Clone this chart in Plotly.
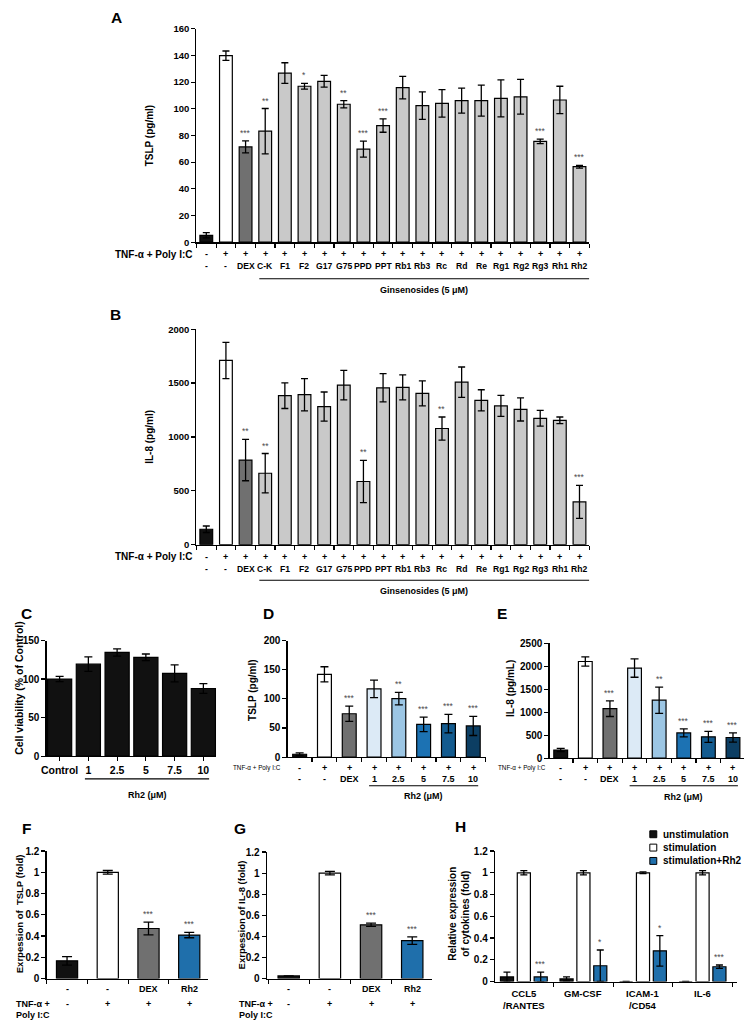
import plotly.graph_objects as go

W, H = 752, 1031
FONT = "Liberation Sans"

# ---------------- data ----------------
# Panels A / B : ginsenoside screen
ab_labels = ["-", "-", "DEX", "C-K", "F1", "F2", "G17", "G75", "PPD", "PPT", "Rb1", "Rb3",
             "Rc", "Rd", "Re", "Rg1", "Rg2", "Rg3", "Rh1", "Rh2"]
ab_stim = ["-"] + ["+"] * 19
a_tslp = [5.2, 139.8, 71.4, 83.2, 126.8, 116.9, 120.6, 103.4, 69.7, 87.4, 115.9, 102.4,
          104.1, 106.1, 106.1, 107.8, 109.0, 75.6, 106.6, 56.6]
a_err = [2.0, 3.5, 4.5, 17.0, 7.7, 2.2, 4.4, 2.7, 6.0, 5.0, 8.4, 10.3, 10.3, 9.4, 11.6,
         13.8, 13.0, 1.7, 10.3, 1.0]
a_sig = ["", "", "***", "**", "", "*", "", "**", "***", "***", "", "", "", "", "", "", "",
         "***", "", "***"]
b_il8 = [143, 1710, 785, 663, 1383, 1392, 1282, 1481, 586, 1456, 1460, 1405, 1078, 1508,
         1340, 1288, 1255, 1173, 1154, 397]
b_err = [30, 168, 192, 183, 119, 150, 135, 137, 196, 131, 116, 116, 107, 141, 98, 98, 107,
         73, 31, 153]
b_sig = ["", "", "**", "**", "", "", "", "", "**", "", "", "", "**", "", "", "", "", "",
         "", "***"]

# Panel C : cell viability
c_labels = ["Control", "1", "2.5", "5", "7.5", "10"]
c_viab = [100.1, 119.3, 134.6, 128.2, 107.4, 87.8]
c_err = [3.4, 9.4, 4.7, 4.3, 11.0, 6.4]

# Panels D / E : Rh2 dose response
de_labels = ["-", "-", "DEX", "1", "2.5", "5", "7.5", "10"]
de_stim = ["-", "+", "+", "+", "+", "+", "+", "+"]
d_tslp = [5.0, 142.0, 74.4, 117.2, 100.3, 56.3, 57.5, 53.5]
d_err = [2.5, 13.0, 13.0, 15.0, 10.7, 12.4, 15.7, 16.4]
d_sig = ["", "", "***", "", "**", "***", "***", "***"]
e_il8 = [178, 2107, 1079, 1964, 1264, 550, 464, 450]
e_err = [36, 100, 171, 200, 286, 86, 121, 100]
e_sig = ["", "", "***", "", "**", "***", "***", "***"]

# Panels F / G : mRNA expression
fg_labels = ["-", "-", "DEX", "Rh2"]
fg_stim = ["-", "+", "+", "+"]
f_tslp = [0.167, 1.0, 0.471, 0.409]
f_err = [0.04, 0.017, 0.06, 0.025]
g_il8 = [0.025, 1.0, 0.51, 0.36]
g_err = [0.0, 0.017, 0.015, 0.035]
fg_sig = ["", "", "***", "***"]

# Panel H : other cytokines
h_cats = ["CCL5<br>/RANTES", "GM-CSF", "ICAM-1<br>/CD54", "IL-6"]
h_series = ["unstimulation", "stimulation", "stimulation+Rh2"]
h_unstim = [0.042, 0.024, 0.0, 0.0]
h_unstim_err = [0.045, 0.018, 0.0, 0.0]
h_stim = [1.0, 1.0, 1.0, 1.0]
h_stim_err = [0.02, 0.02, 0.008, 0.02]
h_rh2 = [0.042, 0.145, 0.282, 0.136]
h_rh2_err = [0.045, 0.145, 0.14, 0.016]
h_sig = ["***", "*", "*", "***"]

# ---------------- styling ----------------
BLACK = "#111111"
DEXG = "#707070"
LIGHTG = "#c9c9c9"
BLUE = "#1f6fab"
BLUES = ["#dceaf6", "#9cc6e4", "#1c72b3", "#135b8f", "#0c3e63"]
STARC = "#4a4a4a"

ab_colors = [BLACK, "white", DEXG] + [LIGHTG] * 17
de_colors = [BLACK, "white", DEXG] + BLUES
fg_colors = [BLACK, "white", DEXG, BLUE]


def px(x):
    return x / W


def py(y):
    return 1 - y / H


def font(size, bold=True, color="black"):
    return dict(family=FONT, size=size, color=color, weight="bold" if bold else "normal")


fig = go.Figure()
annotations = []
shapes = []


def ann(x, y, text, size=9, xref="paper", yref="paper", xanchor="center", yanchor="middle",
        bold=True, color="black", angle=0, yshift=0):
    annotations.append(dict(x=x, y=y, xref=xref, yref=yref, text=text, showarrow=False,
                            font=font(size, bold, color), xanchor=xanchor, yanchor=yanchor,
                            textangle=angle, yshift=yshift))


def setup_axes(n, xd, yd, xr, yr, dtick, xtickvals, ytfs=9.5, xticklabels=None, xtfs=10):
    xa = "xaxis" if n == 1 else f"xaxis{n}"
    ya = "yaxis" if n == 1 else f"yaxis{n}"
    yid = "y" if n == 1 else f"y{n}"
    xid = "x" if n == 1 else f"x{n}"
    xcfg = dict(domain=[px(xd[0]), px(xd[1])], range=list(xr), anchor=yid,
                showline=True, linecolor="black", linewidth=1.3, ticks="outside",
                ticklen=4, tickwidth=1.2, tickcolor="black", showgrid=False,
                zeroline=False, tickvals=xtickvals, fixedrange=True)
    if xticklabels is None:
        xcfg["showticklabels"] = False
    else:
        xcfg["ticktext"] = xticklabels
        xcfg["tickfont"] = font(xtfs)
    ycfg = dict(domain=[py(yd[0]), py(yd[1])], range=list(yr), anchor=xid,
                showline=True, linecolor="black", linewidth=1.3, ticks="outside",
                ticklen=4, tickwidth=1.2, tickcolor="black", showgrid=False,
                zeroline=False, dtick=dtick, tick0=0, tickfont=font(ytfs), fixedrange=True)
    fig.layout[xa] = xcfg
    fig.layout[ya] = ycfg
    return xid, yid


def add_bars(xid, yid, xs, ys, errs, colors, width, capw):
    fig.add_trace(go.Bar(x=xs, y=ys, xaxis=xid, yaxis=yid, width=width,
                         marker=dict(color=colors, line=dict(color="black", width=1.2)),
                         error_y=dict(type="data", array=errs, visible=True, color="black",
                                      thickness=1.3, width=capw),
                         showlegend=False))


def add_stars(xid, yid, xs, ys, errs, sigs, size=8.5):
    for x, y, e, s in zip(xs, ys, errs, sigs):
        if s:
            ann(x, y + e, s, size=size, xref=xid, yref=yid, yanchor="bottom",
                bold=False, color=STARC, yshift=1)


# ---------------- Panel A ----------------
idx20 = list(range(len(ab_labels)))
xa, ya = setup_axes(1, (192, 588), (239, 23), (-0.5, 19.5), (0, 160), 20,
                    [i - 0.5 for i in range(len(ab_labels) + 1)])
add_bars(xa, ya, idx20, a_tslp, a_err, ab_colors, 0.65, 3.5)
add_stars(xa, ya, idx20, a_tslp, a_err, a_sig)
ann(px(191), py(251), "TNF-α + Poly I:C", size=10, xanchor="right")
for i, (s, l) in enumerate(zip(ab_stim, ab_labels)):
    ann(i, py(251), s, size=9, xref=xa)
    ann(i, py(263), l, size=8.6, xref=xa)
shapes.append(dict(type="line", xref=xa, yref="paper", x0=2.7, x1=19.5, y0=py(276), y1=py(276),
                   line=dict(color="black", width=1.1)))
ann((2.7 + 19.5) / 2, py(287), "Ginsenosides (5 μM)", size=9, xref=xa)
ann(px(145), py(131), "TSLP (pg/ml)", size=10, angle=-90)
ann(px(111), py(12), "A", size=15.5)

# ---------------- Panel B ----------------
xb, yb = setup_axes(2, (192, 588), (545, 327), (-0.5, 19.5), (0, 2000), 500,
                    [i - 0.5 for i in range(len(ab_labels) + 1)])
add_bars(xb, yb, idx20, b_il8, b_err, ab_colors, 0.65, 3.5)
add_stars(xb, yb, idx20, b_il8, b_err, b_sig)
ann(px(191), py(557), "TNF-α + Poly I:C", size=10, xanchor="right")
for i, (s, l) in enumerate(zip(ab_stim, ab_labels)):
    ann(i, py(557), s, size=9, xref=xb)
    ann(i, py(570), l, size=8.6, xref=xb)
shapes.append(dict(type="line", xref=xb, yref="paper", x0=2.7, x1=19.5, y0=py(581), y1=py(581),
                   line=dict(color="black", width=1.1)))
ann((2.7 + 19.5) / 2, py(592), "Ginsenosides (5 μM)", size=9, xref=xb)
ann(px(145), py(436), "IL-8 (pg/ml)", size=10, angle=-90)
ann(px(110), py(312), "B", size=15.5)

# ---------------- Panel C ----------------
idx6 = list(range(len(c_labels)))
xc, yc = setup_axes(3, (41, 212), (759, 642), (-0.45, 5.45), (0, 150), 50, idx6,
                    ytfs=10, xticklabels=c_labels, xtfs=10.5)
add_bars(xc, yc, idx6, c_viab, c_err, [BLACK] * 6, 0.84, 4)
shapes.append(dict(type="line", xref=xc, yref="paper", x0=0.88, x1=5.2, y0=py(782), y1=py(782),
                   line=dict(color="black", width=1.1)))
ann((0.88 + 5.2) / 2, py(798), "Rh2 (μM)", size=9, xref=xc)
ann(px(13), py(690), "Cell viability (% of Control)", size=10.5, angle=-90)
ann(px(21), py(615), "C", size=15.5)

# ---------------- Panel D ----------------
idx8 = list(range(len(de_labels)))
xd_, yd_ = setup_axes(4, (284, 484), (760, 642), (-0.48, 7.52), (0, 200), 50,
                      [i - 0.5 for i in range(len(de_labels) + 1)], ytfs=10)
add_bars(xd_, yd_, idx8, d_tslp, d_err, de_colors, 0.56, 4)
add_stars(xd_, yd_, idx8, d_tslp, d_err, d_sig)
ann(px(279), py(771), "TNF-α + Poly I:C", size=6.3, xanchor="right", bold=False)
for i, (s, l) in enumerate(zip(de_stim, de_labels)):
    ann(i, py(771), s, size=9, xref=xd_)
    ann(i, py(782), l, size=9, xref=xd_)
shapes.append(dict(type="line", xref=xd_, yref="paper", x0=2.8, x1=7.2, y0=py(789), y1=py(789),
                   line=dict(color="black", width=1.1)))
ann((2.8 + 7.2) / 2, py(799), "Rh2 (μM)", size=9, xref=xd_)
ann(px(249), py(693), "TSLP (pg/ml)", size=10, angle=-90)
ann(px(265), py(615), "D", size=15.5)

# ---------------- Panel E ----------------
xe, ye = setup_axes(5, (548, 744), (761, 645), (-0.45, 7.45), (0, 2500), 500,
                    [i - 0.5 for i in range(len(de_labels) + 1)], ytfs=10)
add_bars(xe, ye, idx8, e_il8, e_err, de_colors, 0.56, 4)
add_stars(xe, ye, idx8, e_il8, e_err, e_sig)
ann(px(546), py(771), "TNF-α + Poly I:C", size=6.3, xanchor="right", bold=False)
for i, (s, l) in enumerate(zip(de_stim, de_labels)):
    ann(i, py(771), s, size=9, xref=xe)
    ann(i, py(782), l, size=9, xref=xe)
shapes.append(dict(type="line", xref=xe, yref="paper", x0=2.8, x1=7.2, y0=py(789), y1=py(789),
                   line=dict(color="black", width=1.1)))
ann((2.8 + 7.2) / 2, py(800), "Rh2 (μM)", size=9, xref=xe)
ann(px(509), py(690), "IL-8 (pg/mL)", size=10, angle=-90)
ann(px(500), py(615), "E", size=15.5)

# ---------------- Panel F ----------------
idx4 = list(range(len(fg_labels)))
xf, yf = setup_axes(6, (41, 204), (984, 855), (-0.5, 3.47), (0, 1.2), 0.2,
                    [i - 0.5 for i in range(len(fg_labels) + 1)], ytfs=10)
add_bars(xf, yf, idx4, f_tslp, f_err, fg_colors, 0.52, 5)
add_stars(xf, yf, idx4, f_tslp, f_err, fg_sig)
for i, (s, l) in enumerate(zip(fg_stim, fg_labels)):
    ann(i, py(995), l, size=9, xref=xf)
    ann(i, py(1010), s, size=9, xref=xf)
ann(px(8), py(1010), "TNF-α +", size=9, xanchor="left")
ann(px(8), py(1021), "Poly I:C", size=9, xanchor="left")
ann(px(13), py(918), "Exrpession of  TSLP (fold)", size=9.5, angle=-90)
ann(px(21), py(832), "F", size=15.5)

# ---------------- Panel G ----------------
xg, yg = setup_axes(7, (263, 429), (984, 856), (-0.53, 3.47), (0, 1.2), 0.2,
                    [i - 0.5 for i in range(len(fg_labels) + 1)], ytfs=10)
add_bars(xg, yg, idx4, g_il8, g_err, fg_colors, 0.52, 5)
add_stars(xg, yg, idx4, g_il8, g_err, fg_sig)
for i, (s, l) in enumerate(zip(fg_stim, fg_labels)):
    ann(i, py(995), l, size=9, xref=xg)
    ann(i, py(1010), s, size=9, xref=xg)
ann(px(233), py(1010), "TNF-α +", size=9, xanchor="left")
ann(px(233), py(1021), "Poly I:C", size=9, xanchor="left")
ann(px(237), py(920), "Exrpession of IL-8 (fold)", size=9.5, angle=-90)
ann(px(236), py(832), "G", size=15.5)

# ---------------- Panel H ----------------
idxh = list(range(len(h_cats)))
step = 0.283
xh, yh = setup_axes(8, (493, 737), (987, 855), (-0.483, 3.58), (0, 1.2), 0.2,
                    [i + 0.5 for i in range(-1, len(h_cats))], ytfs=10)
h_vals = [h_unstim, h_stim, h_rh2]
h_errs = [h_unstim_err, h_stim_err, h_rh2_err]
h_cols = [BLACK, "white", BLUE]
for k in range(3):
    xs = [i + (k - 1) * step for i in idxh]
    fig.add_trace(go.Bar(x=xs, y=h_vals[k], xaxis=xh, yaxis=yh, width=0.22,
                         marker=dict(color=h_cols[k], line=dict(color="black", width=1.2)),
                         error_y=dict(type="data", array=h_errs[k], visible=True,
                                      color="black", thickness=1.3, width=3.5),
                         showlegend=False))
add_stars(xh, yh, [i + step for i in idxh], h_rh2, h_rh2_err, h_sig)
for i, c in enumerate(h_cats):
    ann(i, py(992), c, size=9.5, xref=xh, yanchor="top")
ann(px(457), py(918), "Relative expression<br>of cytokines (fold)", size=10, angle=-90)
ann(px(458), py(830), "H", size=15.5)

# legend for H (swatch + label, one row per series)
for k, name in enumerate(h_series):
    yc_ = 838 + k * 13.5
    shapes.append(dict(type="rect", xref="paper", yref="paper",
                       x0=px(649), x1=px(656), y0=py(yc_ + 3.5), y1=py(yc_ - 3.5),
                       fillcolor=h_cols[k], line=dict(color="black", width=1)))
    ann(px(660), py(yc_), name, size=10, xanchor="left")

fig.update_layout(
    width=W, height=H, margin=dict(l=0, r=0, t=0, b=0),
    paper_bgcolor="white", plot_bgcolor="white",
    annotations=annotations, shapes=shapes,
    showlegend=False,
    font=dict(family=FONT),
)

fig.write_html(
    "out.html",
    config={"displayModeBar": False, "staticPlot": True},
    post_script="document.body.style.margin='0';document.body.style.padding='0';"
                "document.documentElement.style.overflow='hidden';",
)
